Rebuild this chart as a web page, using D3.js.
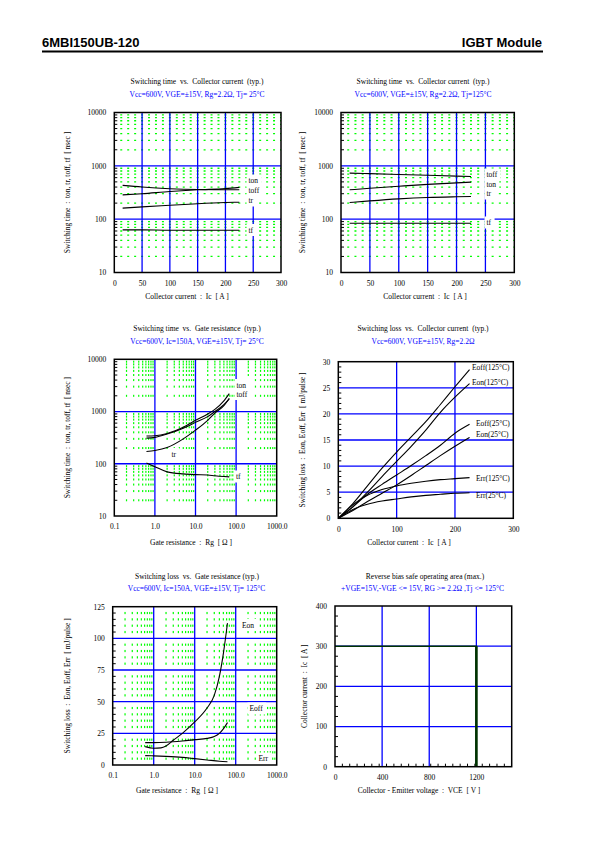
<!DOCTYPE html>
<html><head><meta charset="utf-8">
<script src="https://cdn.jsdelivr.net/npm/d3@7"></script>
<style>
body{margin:0;background:#fff}
</style></head><body>
<script>
// ---------------- DATA ----------------
// Panel 1 & 2: switching time vs collector current
const icTime = [15, 50, 100, 150, 200, 225];
const ton25  = [285, 300, 330, 355, 375, 395];
const toff25 = [430, 400, 372, 360, 357, 355];
const tr25   = [161, 170, 182, 195, 205, 208];
const tf25   = [63, 63, 62, 62, 62, 62];
const toff125 = [729, 715, 690, 665, 640, 631];
const ton125  = [355, 380, 415, 450, 480, 494];
const tr125   = [205, 220, 240, 255, 263, 266];
const tf125   = [84, 84, 84, 84, 84, 84];
// Panel 3: switching time vs gate resistance
const rgTime = [0.62, 1, 2, 5, 10, 20, 30, 50, 68];
const tonRg  = [340, 345, 380, 500, 680, 900, 1100, 1600, 2200];
const toffRg = [310, 320, 370, 480, 620, 800, 1000, 1350, 1750];
const trRg   = [172, 180, 205, 300, 440, 680, 930, 1300, 1800];
const tfRg   = [103, 88, 70, 64, 62, 61, 59, 57, 56];
// Panel 4: switching loss vs collector current
const icLoss  = [0, 25, 50, 75, 100, 125, 150, 175, 200, 225];
const eoff125 = [0, 2.8, 6.2, 9.6, 12.7, 15.6, 18.5, 21.8, 25.2, 28.5];
const eon125  = [0, 2.2, 5.0, 8.0, 10.9, 13.8, 16.9, 20.3, 23.2, 25.8];
const eoff25  = [0, 2.2, 4.6, 6.5, 8.3, 10.1, 12.0, 14.0, 16.3, 18.0];
const eon25   = [0, 1.5, 3.2, 4.8, 6.4, 8.2, 10.1, 12.0, 13.8, 15.5];
const err125  = [0, 2.6, 4.4, 5.5, 6.2, 6.7, 7.1, 7.4, 7.6, 7.8];
const err25   = [0, 1.7, 2.7, 3.3, 3.7, 4.1, 4.4, 4.6, 4.8, 4.9];
// Panel 5: switching loss vs gate resistance
const rgEon  = [0.62, 1, 1.5, 2, 3, 5, 10, 20, 30, 40, 50, 63];
const eonRg  = [14.5, 13.2, 13.5, 15, 19.5, 25, 34, 45, 55, 70, 88, 112];
const rgEoff = [0.62, 1, 2, 5, 10, 20, 30, 40, 50, 63];
const eoffRg = [17.7, 17.7, 18, 19, 20, 21, 22.5, 25, 28.5, 33.5];
const rgErr  = [0.62, 1, 2, 5, 10, 20, 40, 63];
const errRg  = [7.4, 7.2, 6.8, 6, 5, 4, 3, 2.6];
// Panel 6: RBSOA
const rbsoaV = [0, 1200, 1200];
const rbsoaI = [300, 300, 0];

// tick labels
const ticksIc = [0, 50, 100, 150, 200, 250, 300];
const ticksTime = [10, 100, 1000, 10000];
const ticksRg = [0.1, 1, 10, 100, 1000];
const ticksLossIc = [0, 5, 10, 15, 20, 25, 30];
const ticksIcLoss = [0, 100, 200, 300];
const ticksLossRg = [0, 25, 50, 75, 100, 125];
const ticksVce = [0, 400, 800, 1200];
const ticksIcSoa = [0, 100, 200, 300, 400];

// ---------------- DRAW ----------------
const SERIF = "'Liberation Serif','Times New Roman',serif";
const BLUE = "#0000ff", GREEN = "#00ff00";
const svg = d3.select("body").append("svg").attr("width", 595).attr("height", 842);
svg.append("rect").attr("width", 595).attr("height", 842).attr("fill", "#fff");

// header
svg.append("text").attr("x", 42).attr("y", 46.5).text("6MBI150UB-120")
  .attr("font-family", "'Liberation Sans',Arial,sans-serif").attr("font-weight", "bold").attr("font-size", 13);
svg.append("text").attr("x", 542).attr("y", 46.5).attr("text-anchor", "end").text("IGBT Module")
  .attr("font-family", "'Liberation Sans',Arial,sans-serif").attr("font-weight", "bold").attr("font-size", 13);
svg.append("line").attr("x1", 42).attr("x2", 543).attr("y1", 51.5).attr("y2", 51.5)
  .attr("stroke", "#000").attr("stroke-width", 2);

function logMinor(lo, hi) {
  const out = [];
  for (let p = lo; p < hi; p *= 10) for (let k = 2; k <= 9; k++) out.push(p * k);
  return out;
}
function range(a, b, s, skip) {
  const out = [];
  for (let v = a; v <= b + 1e-9; v += s) if (!skip || Math.abs(v / skip - Math.round(v / skip)) > 1e-6) out.push(v);
  return out;
}

function makePanel(o) {
  const g = svg.append("g");
  const x = (o.xLog ? d3.scaleLog() : d3.scaleLinear()).domain(o.xDomain).range([o.l, o.r]);
  const y = (o.yLog ? d3.scaleLog() : d3.scaleLinear()).domain(o.yDomain).range([o.b, o.t]);
  if (o.green) o.green(g, x, y);
  g.selectAll(null).data(o.xGrid).join("line")
    .attr("x1", d => x(d)).attr("x2", d => x(d)).attr("y1", o.t).attr("y2", o.b)
    .attr("stroke", BLUE).attr("stroke-width", 1.3);
  g.selectAll(null).data(o.yGrid).join("line")
    .attr("y1", d => y(d)).attr("y2", d => y(d)).attr("x1", o.l).attr("x2", o.r)
    .attr("stroke", BLUE).attr("stroke-width", 1.3);
  if (o.yMinor) g.selectAll(null).data(o.yMinor).join("line")
    .attr("y1", d => y(d)).attr("y2", d => y(d)).attr("x1", o.l).attr("x2", o.l + 3)
    .attr("stroke", "#000").attr("stroke-width", 1);
  if (o.xMinor) g.selectAll(null).data(o.xMinor).join("line")
    .attr("x1", d => x(d)).attr("x2", d => x(d)).attr("y1", o.b).attr("y2", o.b - 3)
    .attr("stroke", "#000").attr("stroke-width", 1);
  const ax = g.append("g").attr("transform", `translate(0,${o.b})`)
    .call(d3.axisBottom(x).tickValues(o.xTicks).tickFormat(o.xFmt || (d => d)).tickSize(0).tickPadding(o.xPad || 8));
  ax.select(".domain").remove();
  ax.attr("font-family", SERIF).attr("font-size", 7.5);
  const ay = g.append("g").attr("transform", `translate(${o.l},0)`)
    .call(d3.axisLeft(y).tickValues(o.yTicks).tickFormat(o.yFmt || (d => d)).tickSize(0).tickPadding(o.yPad || 8));
  ay.select(".domain").remove();
  ay.attr("font-family", SERIF).attr("font-size", 7.5);
  g.append("text").attr("x", o.titleX).attr("y", o.titleY).attr("text-anchor", "middle")
    .attr("font-family", SERIF).attr("font-size", 7.5).style("white-space", "pre").text(o.title);
  g.append("text").attr("x", o.subX).attr("y", o.titleY + 12.7).attr("text-anchor", "middle")
    .attr("font-family", SERIF).attr("font-size", 7.5).attr("fill", BLUE).style("white-space", "pre").text(o.sub);
  g.append("text").attr("x", o.xLabelX).attr("y", o.xLabelY).attr("text-anchor", "middle")
    .attr("font-family", SERIF).attr("font-size", 7.5).style("white-space", "pre").text(o.xLabel);
  g.append("text").attr("transform", `translate(${o.yLabelX},${(o.t + o.b) / 2}) rotate(-90)`)
    .attr("text-anchor", "middle").attr("dy", "0.35em")
    .attr("font-family", SERIF).attr("font-size", 7.5).style("white-space", "pre").text(o.yLabel);
  g.frame = () => g.append("rect").attr("x", o.l).attr("y", o.t).attr("width", o.r - o.l).attr("height", o.b - o.t)
    .attr("fill", "none").attr("stroke", "#000").attr("stroke-width", 1.5);
  return { g, x, y, o };
}

function curve(p, xs, ys, color, width) {
  const line = d3.line().x((d, i) => p.x(xs[i])).y(d => p.y(d)).curve(d3.curveMonotoneX);
  p.g.append("path").attr("d", line(ys)).attr("fill", "none")
    .attr("stroke", color || "#000").attr("stroke-width", width || 1.1);
}
function label(p, xx, yy, txt, bg) {
  const t = p.g.append("text").attr("x", xx).attr("y", yy).attr("font-family", SERIF)
    .attr("font-size", 7.5).text(txt);
  if (bg) {
    const b = t.node().getBBox();
    p.g.insert("rect", () => t.node()).attr("x", b.x - 2).attr("y", b.y - 1.5)
      .attr("width", b.width + 5).attr("height", b.height + 3).attr("fill", "#fff");
  }
}

// green: horizontal dotted rows at log minor values, dots at 12.5 A steps
function greenRowsIc(g, x, y) {
  const step = x(12.5) - x(0);
  g.selectAll(null).data(logMinor(10, 10000)).join("line")
    .attr("x1", x(12.5) - 1).attr("x2", x(300)).attr("y1", d => y(d)).attr("y2", d => y(d))
    .attr("stroke", GREEN).attr("stroke-width", 1.3).attr("stroke-dasharray", `2 ${step - 2}`);
}
function greenDotsRgTime(g, x, y) {
  const xs = logMinor(0.1, 1000), ys = logMinor(10, 10000);
  const pts = [];
  xs.forEach(a => ys.forEach(b => pts.push([a, b])));
  g.selectAll(null).data(pts).join("rect")
    .attr("x", d => x(d[0]) - 0.6).attr("y", d => y(d[1]) - 1).attr("width", 1.2).attr("height", 2)
    .attr("fill", GREEN);
}
function greenDotsRgLoss(g, x, y) {
  const xs = logMinor(0.1, 1000), ys = range(5, 120, 5, 25);
  const pts = [];
  xs.forEach(a => ys.forEach(b => pts.push([a, b])));
  g.selectAll(null).data(pts).join("rect")
    .attr("x", d => x(d[0]) - 0.6).attr("y", d => y(d[1]) - 1.1).attr("width", 1.2).attr("height", 2.2)
    .attr("fill", GREEN);
}

const rgFmt = d => d.toFixed(1);

// ---- Panel 1
const p1 = makePanel({
  l: 114.3, r: 281, t: 112.5, b: 272.5, xDomain: [0, 300], yLog: true, yDomain: [10, 10000],
  xTicks: ticksIc, yTicks: ticksTime, xGrid: [50, 100, 150, 200, 250], yGrid: [100, 1000],
  yMinor: logMinor(10, 10000), green: greenRowsIc,
  title: "Switching time  vs.  Collector current  (typ.)", titleX: 197, titleY: 84,
  sub: "Vcc=600V, VGE=±15V, Rg=2.2Ω, Tj= 25°C", subX: 197,
  xLabel: "Collector current  :  Ic  [ A ]", xLabelX: 187, xLabelY: 298.5,
  yLabel: "Switching time  :  ton, tr, toff, tf  [ nsec ]", yLabelX: 67
});
curve(p1, icTime, ton25); curve(p1, icTime, toff25); curve(p1, icTime, tr25); curve(p1, icTime, tf25);
label(p1, 248.5, 183, "ton", true); label(p1, 248.5, 193, "toff", true);
label(p1, 248.5, 203, "tr", true); label(p1, 248.5, 232.5, "tf", true);
p1.g.frame();

// ---- Panel 2
const p2 = makePanel({
  l: 341, r: 514.3, t: 112.5, b: 272.5, xDomain: [0, 300], yLog: true, yDomain: [10, 10000],
  xTicks: ticksIc, yTicks: ticksTime, xGrid: [50, 100, 150, 200, 250], yGrid: [100, 1000],
  yMinor: logMinor(10, 10000), green: greenRowsIc,
  title: "Switching time  vs.  Collector current  (typ.)", titleX: 423, titleY: 84,
  sub: "Vcc=600V, VGE=±15V, Rg=2.2Ω, Tj=125°C", subX: 423,
  xLabel: "Collector current  :  Ic  [ A ]", xLabelX: 425, xLabelY: 298.5,
  yLabel: "Switching time  :  ton, tr, toff, tf  [ nsec ]", yLabelX: 302
});
curve(p2, icTime, toff125); curve(p2, icTime, ton125); curve(p2, icTime, tr125); curve(p2, icTime, tf125);
label(p2, 486.5, 177, "toff", true); label(p2, 486.5, 186.5, "ton", true);
label(p2, 486.5, 196, "tr", true); label(p2, 486.5, 225, "tf", true);
p2.g.frame();

// ---- Panel 3
const p3 = makePanel({
  l: 114.3, r: 276.7, t: 359.3, b: 516, xLog: true, xDomain: [0.1, 1000], yLog: true, yDomain: [10, 10000],
  xTicks: ticksRg, xFmt: rgFmt, yTicks: ticksTime, xGrid: [1, 10, 100], yGrid: [100, 1000],
  yMinor: logMinor(10, 10000), green: greenDotsRgTime,
  title: "Switching time  vs.  Gate resistance  (typ.)", titleX: 197, titleY: 331,
  sub: "Vcc=600V, Ic=150A, VGE=±15V, Tj= 25°C", subX: 197,
  xLabel: "Gate resistance  :  Rg  [ Ω ]", xLabelX: 191, xLabelY: 545,
  yLabel: "Switching time  :  ton, tr, toff, tf  [ nsec ]", yLabelX: 67
});
curve(p3, rgTime, tonRg); curve(p3, rgTime, toffRg); curve(p3, rgTime, trRg); curve(p3, rgTime, tfRg);
label(p3, 236.5, 387.5, "ton", true); label(p3, 236.5, 396.5, "toff", true);
label(p3, 171.5, 456.5, "tr", true); label(p3, 236, 479, "tf", true);
p3.g.frame();

// ---- Panel 4
const p4 = makePanel({
  l: 338.3, r: 513.3, t: 361.7, b: 518.3, xDomain: [0, 300], yDomain: [0, 30],
  xTicks: ticksIcLoss, yTicks: ticksLossIc, xGrid: [100, 200], yGrid: [5, 10, 15, 20, 25],
  yMinor: range(1, 29, 1, 5),
  title: "Switching loss  vs.  Collector current  (typ.)", titleX: 423, titleY: 331,
  sub: "Vcc=600V, VGE=±15V, Rg=2.2Ω", subX: 423,
  xLabel: "Collector current  :  Ic  [ A ]", xLabelX: 409, xLabelY: 545,
  yLabel: "Switching loss  :  Eon, Eoff, Err  [ mJ/pulse ]", yLabelX: 302
});
curve(p4, icLoss, eoff125); curve(p4, icLoss, eon125); curve(p4, icLoss, eoff25);
curve(p4, icLoss, eon25); curve(p4, icLoss, err125); curve(p4, icLoss, err25);
label(p4, 472, 369.5, "Eoff(125°C)"); label(p4, 472, 384.5, "Eon(125°C)");
label(p4, 476, 425.5, "Eoff(25°C)"); label(p4, 476, 436.5, "Eon(25°C)");
label(p4, 476, 480.5, "Err(125°C)"); label(p4, 476, 498, "Err(25°C)");
p4.g.frame();

// ---- Panel 5
const p5 = makePanel({
  l: 112.7, r: 276.7, t: 606.7, b: 765, xLog: true, xDomain: [0.1, 1000], yDomain: [0, 125],
  xTicks: ticksRg, xFmt: rgFmt, yTicks: ticksLossRg, xGrid: [1, 10, 100], yGrid: [25, 50, 75, 100],
  yMinor: range(5, 120, 5, 25), green: greenDotsRgLoss,
  title: "Switching loss  vs.  Gate resistance (typ.)", titleX: 197, titleY: 578.5,
  sub: "Vcc=600V, Ic=150A, VGE=±15V, Tj= 125°C", subX: 196.5,
  xLabel: "Gate resistance  :  Rg  [ Ω ]", xLabelX: 177, xLabelY: 792.5,
  yLabel: "Switching loss  :  Eon, Eoff, Err  [ mJ/pulse ]", yLabelX: 67
});
curve(p5, rgEon, eonRg); curve(p5, rgEoff, eoffRg); curve(p5, rgErr, errRg);
label(p5, 242, 627.5, "Eon", true); label(p5, 249.5, 711, "Eoff", true); label(p5, 258.5, 761, "Err", true);
p5.g.frame();

// ---- Panel 6
const p6 = makePanel({
  l: 335, r: 511.7, t: 606, b: 766.7, xDomain: [0, 1500], yDomain: [0, 400],
  xTicks: ticksVce, yTicks: ticksIcSoa, xGrid: [400, 800, 1200], yGrid: [100, 200, 300],
  yMinor: range(25, 375, 25, 100), xMinor: range(62.5, 1450, 62.5),
  title: "Reverse bias safe operating area (max.)", titleX: 425, titleY: 578.5,
  sub: "+VGE=15V,-VGE <= 15V, RG >= 2.2Ω ,Tj <= 125°C", subX: 422.5,
  xLabel: "Collector - Emitter voltage  :  VCE  [ V ]", xLabelX: 419, xLabelY: 793,
  yLabel: "Collector current  :  Ic  [ A ]", yLabelX: 304
});
p6.g.append("path")
  .attr("d", d3.line().x((d, i) => p6.x(rbsoaV[i])).y(d => p6.y(d))(rbsoaI))
  .attr("fill", "none").attr("stroke", "#003300").attr("stroke-width", 1.6);
p6.g.append("line").attr("x1", p6.x(rbsoaV[1])).attr("x2", p6.x(rbsoaV[2]))
  .attr("y1", p6.y(rbsoaI[1])).attr("y2", p6.y(rbsoaI[2]))
  .attr("stroke", "#003300").attr("stroke-width", 2.6);
p6.g.frame();
</script>
</body></html>
